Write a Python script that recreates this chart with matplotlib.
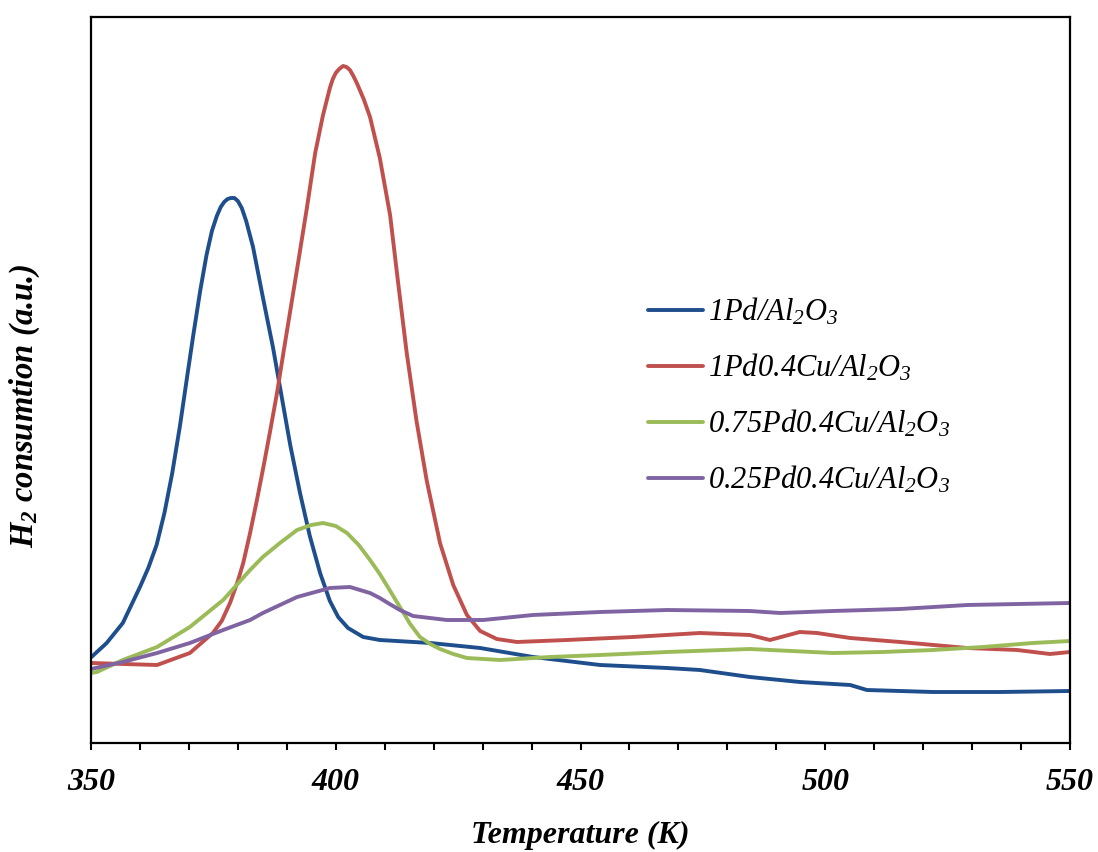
import matplotlib
matplotlib.use("Agg")
import matplotlib.pyplot as plt
from matplotlib.ticker import MultipleLocator

plt.rcParams['font.family'] = ['Liberation Serif', 'DejaVu Serif']
plt.rcParams['mathtext.fontset'] = 'custom'
plt.rcParams['mathtext.rm'] = 'Liberation Serif:italic'
plt.rcParams['mathtext.it'] = 'Liberation Serif:italic'
plt.rcParams['mathtext.bf'] = 'Liberation Serif:bold:italic'

# ---- data (signal in arbitrary units) ----
T_1Pd = [350.1, 353.2, 356.5, 360.0, 361.7, 363.4, 365.0, 366.6, 368.2, 369.6, 370.9,
         372.3, 373.6, 374.7, 375.7, 376.5, 377.2, 377.9, 378.6, 379.3, 380.0, 380.8,
         381.7, 383.1, 385.1, 387.2, 389.0, 390.7, 392.7, 394.7, 396.8, 398.8, 400.5,
         402.5, 405.6, 409.0, 419.3, 429.5, 440.3, 454.0, 467.7, 474.4, 484.6, 494.8,
         505.1, 508.5, 522.0, 535.7, 550.0]
S_1Pd = [86, 100, 120, 156, 175, 198, 230, 270, 318, 365, 408,
         452, 488, 512, 527, 536, 541, 544, 545, 545, 542, 535,
         522, 496, 446, 395, 345, 298, 250, 207, 170, 142, 126,
         115, 106, 103, 100, 95, 86, 78, 75, 73, 66, 61,
         58, 53, 51, 51, 52]

T_1Pd04Cu = [350.0, 363.5, 370.2, 374.9, 376.7, 378.4, 380.0, 381.1, 382.5, 383.9, 385.3,
             386.6, 388.0, 389.3, 390.7, 392.3, 394.1, 395.8, 397.4, 398.8, 399.4, 400.0,
             400.7, 401.5, 402.2, 402.9, 403.6, 404.3, 405.7, 407.0, 409.0, 411.1, 412.7,
             414.5, 416.5, 418.6, 421.3, 424.0, 426.8, 429.5, 432.9, 437.0, 447.2, 460.7,
             474.4, 484.6, 488.7, 494.8, 498.3, 505.1, 515.3, 529.0, 539.2, 545.9, 550.0]
S_1Pd04Cu = [80, 78, 90, 110, 122, 140, 162, 180, 210, 243, 278,
             312, 350, 390, 432, 480, 535, 590, 628, 655, 664, 670,
             674, 677, 676, 673, 667, 660, 644, 626, 585, 528, 462,
             390, 322, 262, 200, 158, 128, 112, 104, 101, 103, 106,
             110, 108, 103, 111, 110, 105, 101, 95, 93, 89, 91]

T_075Pd04Cu = [350.0, 351.2, 356.5, 363.5, 370.2, 377.0, 382.5, 385.1, 388.6, 392.1, 395.0,
               397.4, 400.0, 402.3, 404.7, 407.0, 409.0, 411.0, 413.1, 415.2, 417.2, 419.3,
               421.3, 424.0, 426.8, 433.6, 443.8, 454.0, 467.7, 484.6, 501.6, 511.8, 522.0,
               532.2, 542.4, 550.0]
S_075Pd04Cu = [70, 71, 83, 96, 116, 143, 173, 186, 200, 213, 218,
               220, 217, 210, 198, 183, 169, 153, 136, 119, 106, 99,
               94, 89, 85, 83, 86, 88, 91, 94, 90, 91, 93,
               96, 100, 102]

T_025Pd04Cu = [350.0, 356.5, 363.5, 370.2, 377.0, 382.5, 385.1, 392.1, 398.8, 402.9, 407.0,
               409.0, 411.0, 413.1, 415.8, 422.7, 430.1, 440.3, 454.0, 467.7, 484.6, 490.8,
               501.6, 515.3, 529.0, 550.0]
S_025Pd04Cu = [74, 81, 90, 100, 113, 123, 130, 146, 155, 156, 150,
               145, 139, 133, 127, 123, 123, 128, 131, 133, 132, 130,
               132, 134, 138, 140]

labels = [r'$1Pd/Al_2O_3$', r'$1Pd0.4Cu/Al_2O_3$',
          r'$0.75Pd0.4Cu/Al_2O_3$', r'$0.25Pd0.4Cu/Al_2O_3$']
colors = ['#1F4E8C', '#C0504D', '#9BBB59', '#8064A2']
xticks = [350, 400, 450, 500, 550]

series = [(T_1Pd, S_1Pd), (T_1Pd04Cu, S_1Pd04Cu),
          (T_075Pd04Cu, S_075Pd04Cu), (T_025Pd04Cu, S_025Pd04Cu)]

fig = plt.figure(figsize=(10.98, 8.52), dpi=100)
ax = fig.add_axes([91/1098, 1 - 743/852, (1070-91)/1098, (743-17)/852])

for (t, s), c, lab in zip(series, colors, labels):
    ax.plot(t, s, color=c, lw=2.8, label=lab, solid_capstyle='round',
            solid_joinstyle='round')

ax.set_xlim(350, 550)
ax.set_ylim(0, 726)
ax.set_xticks(xticks)
ax.set_xticklabels([str(v) for v in xticks], fontsize=23, fontweight='bold', style='italic')
ax.xaxis.set_minor_locator(MultipleLocator(10))
ax.tick_params(axis='x', which='both', direction='out', length=5, width=1.5, pad=13)
ax.set_yticks([])
for sp in ax.spines.values():
    sp.set_linewidth(1.6)

ax.set_xlabel('Temperature (K)', fontsize=23, fontweight='bold', style='italic', labelpad=17)
ax.set_ylabel(r'$\mathbf{H_2}$ consumtion (a.u.)', fontsize=23.5, fontweight='bold',
              style='italic')
ax.yaxis.set_label_coords(-0.05, 0.465)

leg = ax.legend(loc='upper left', bbox_to_anchor=(0.541, 0.653), frameon=False,
                fontsize=22, handlelength=1.8, handletextpad=0.16, labelspacing=0.80)

fig.savefig('out.png', dpi=100)
